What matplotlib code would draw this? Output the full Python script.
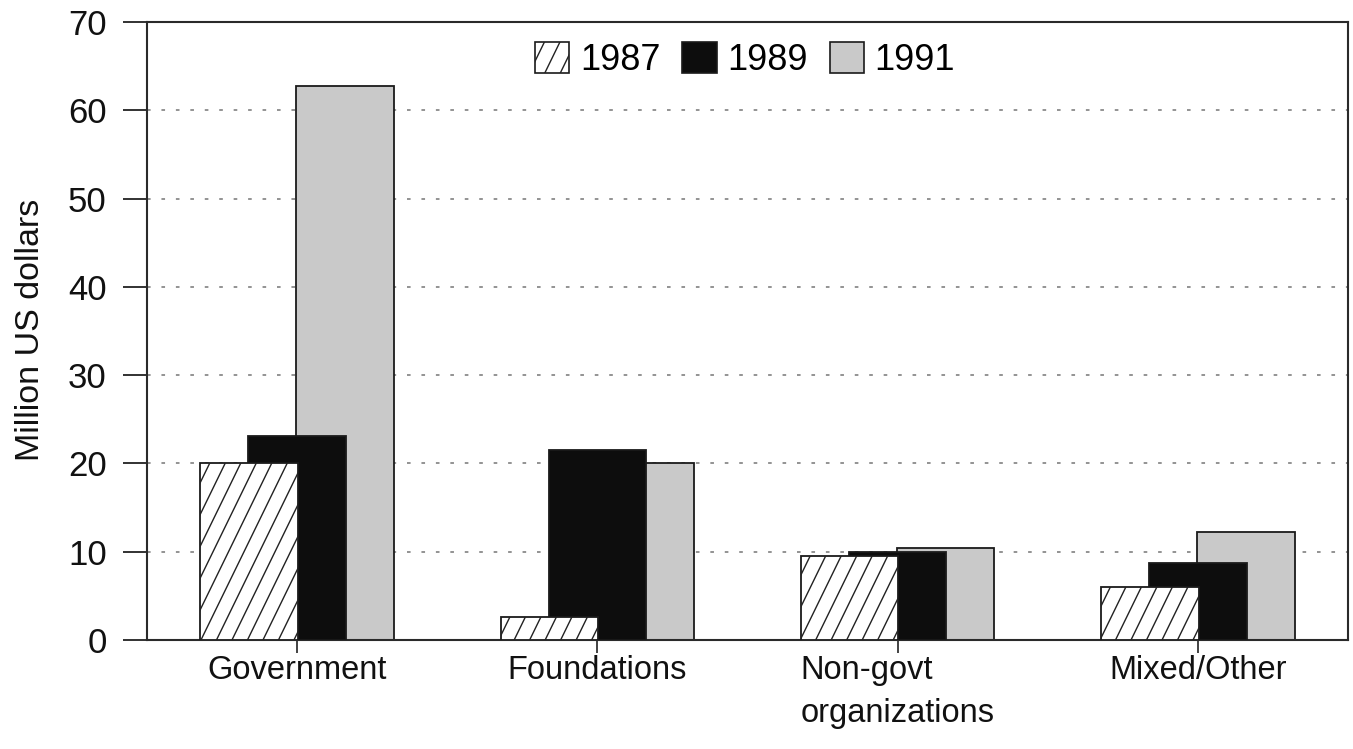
import matplotlib
matplotlib.use("Agg")
import matplotlib.pyplot as plt
import numpy as np
from matplotlib.patches import Rectangle
from matplotlib.transforms import IdentityTransform

categories = ["Government", "Foundations", "Non-govt\norganizations", "Mixed/Other"]
years = ["1987", "1989", "1991"]
v1987 = [20.0, 2.6, 9.5, 6.0]
v1989 = [23.1, 21.5, 10.0, 8.7]
v1991 = [62.8, 20.0, 10.4, 12.2]
yticks = [0, 10, 20, 30, 40, 50, 60, 70]

plt.rcParams['font.family'] = ['Liberation Sans', 'DejaVu Sans']

W, H = 1353, 749
fig = plt.figure(figsize=(W / 100, H / 100), dpi=100)
ax = fig.add_axes([147 / W, 1 - 640 / H, (1348 - 147) / W, (640 - 22) / H])

x = np.arange(len(categories))
width = 0.325
off = 0.16
gray = '#c9c9c9'
edge = '#1a1a1a'

b91 = ax.bar(x + off, v1991, width, color=gray, edgecolor=edge, linewidth=1.3, zorder=2)
b89 = ax.bar(x, v1989, width, color='#0d0d0d', edgecolor=edge, linewidth=1.3, zorder=3)
b87 = ax.bar(x - off, v1987, width, color='white', edgecolor=edge, linewidth=1.3, zorder=4)

ax.set_xlim(-0.5, 3.5)
ax.set_ylim(0, 70)
ax.set_yticks(yticks)
ax.set_xticks(x)
ax.set_xticklabels(categories, fontsize=23.5, linespacing=1.5, multialignment='left')
for lbl in ax.get_yticklabels():
    lbl.set_fontsize(25)

for yv in yticks[1:-1]:
    ax.axhline(yv, color='#8a8a8a', linestyle=(0, (2, 6)), linewidth=1.3, zorder=1)

ax.tick_params(axis='y', direction='out', length=17, width=1.3, pad=12, colors='#222222', labelcolor='#111111')
ax.tick_params(axis='x', direction='out', length=9, width=1.2, pad=1.5, colors='#222222', labelcolor='#111111')
for s in ax.spines.values():
    s.set_linewidth(1.5)
    s.set_color('#2a2a2a')

fig.text(31 / W, 1 - 330 / H, "Million US dollars", rotation=90, ha='center', va='center',
         fontsize=24.5, color='#111111')

handles = [Rectangle((0, 0), 1, 1, facecolor='white', edgecolor=edge, linewidth=1.2),
           Rectangle((0, 0), 1, 1, facecolor='#0d0d0d', edgecolor=edge, linewidth=1.2),
           Rectangle((0, 0), 1, 1, facecolor=gray, edgecolor=edge, linewidth=1.2)]
leg = ax.legend(handles, years, loc='center', bbox_to_anchor=(0.498, 0.938), ncol=3, frameon=False,
                fontsize=26, handlelength=0.95, handleheight=0.95, handletextpad=0.3,
                columnspacing=0.6, borderaxespad=0)

fig.canvas.draw()


def steep_hatch(patch, spacing, zorder):
    bb = patch.get_window_extent()
    x0, y0, x1, y1 = bb.x0, bb.y0, bb.x1, bb.y1
    slope = 2.05
    h = y1 - y0
    xs = np.arange(x0 - h / slope + spacing * 0.6, x1 + spacing, spacing)
    for xs0 in xs:
        ln = plt.Line2D([xs0, xs0 + h / slope], [y0, y1], transform=IdentityTransform(),
                        color='#222222', linewidth=1.0, zorder=zorder)
        ln.set_clip_path(patch.get_path(), patch.get_transform())
        fig.add_artist(ln)


for p in b87.patches:
    steep_hatch(p, 15.5, 5)
steep_hatch(leg.get_patches()[0], 15.5, 10)

fig.savefig("out.png", dpi=100, facecolor='white')
